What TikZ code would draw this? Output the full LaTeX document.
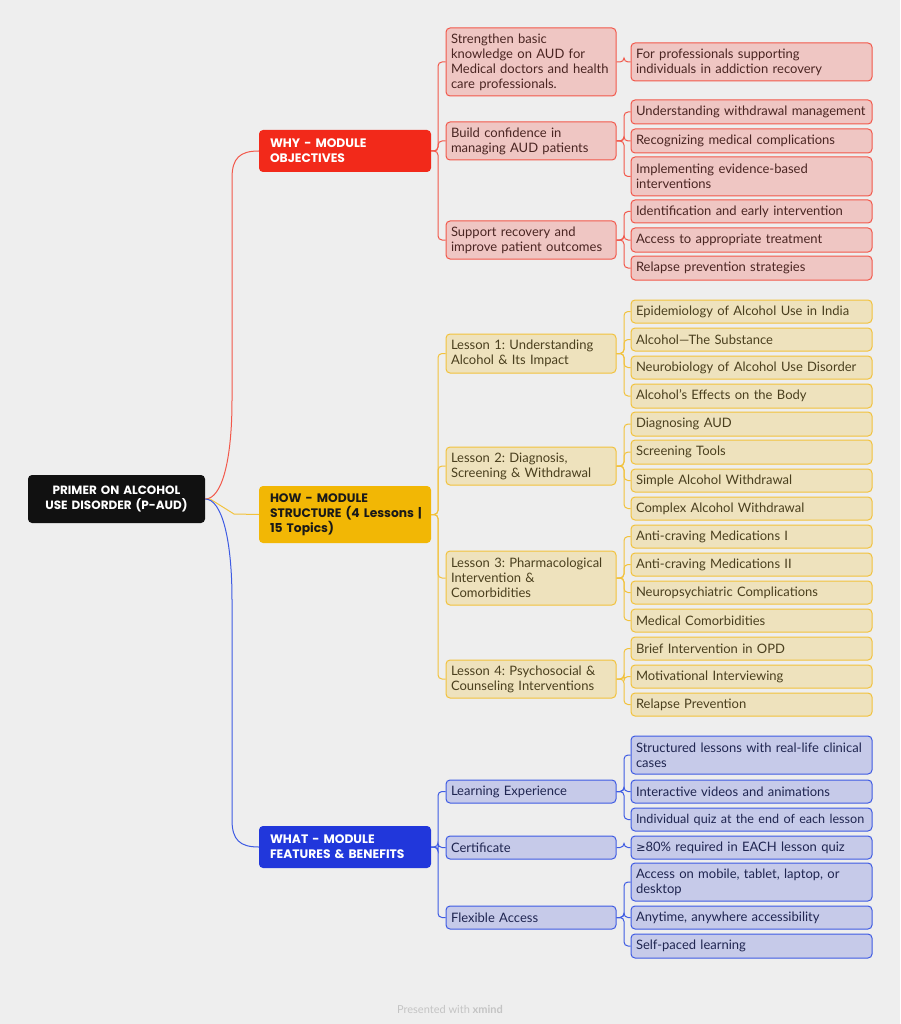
\documentclass[tikz,border=0pt]{standalone}
\usepackage{fontspec}
\setmainfont{Lato}
\newfontfamily\hdfont{Poppins}
\newfontfamily\symfont{DejaVu Sans}
\frenchspacing
\definecolor{bg}{HTML}{EEEEEE}
\definecolor{rmain}{HTML}{F2291A}
\definecolor{rfill}{HTML}{EFC6C3}
\definecolor{rline}{HTML}{F2584B}
\definecolor{rtext}{HTML}{4A2522}
\definecolor{ymain}{HTML}{F2B705}
\definecolor{yfill}{HTML}{EEE2BD}
\definecolor{yline}{HTML}{F2C23C}
\definecolor{ytext}{HTML}{4A3F1E}
\definecolor{bmain}{HTML}{2137DB}
\definecolor{bfill}{HTML}{C6CAE9}
\definecolor{bline}{HTML}{3E5BE3}
\definecolor{btext}{HTML}{1F2550}
\definecolor{rootc}{HTML}{111111}
\definecolor{foot}{HTML}{C4C4C4}
\newcommand\bx[8][5]{%
 \pgfmathsetmacro\bw{#5-#3}\pgfmathsetmacro\bh{#6-#4}\pgfmathsetmacro\btw{#5-#3-2*#1}%
 \node[#7,inner xsep=#1pt,minimum width=\bw pt,minimum height=\bh pt,text width=\btw pt] (#2) at ({(#3+#5)/2},{(#4+#6)/2}) {#8};}
\tikzset{
 base/.style={rounded corners=4pt,inner ysep=0pt,align=left,
   font=\fontsize{13}{15}\selectfont\frenchspacing},
 rootbox/.style={base,fill=rootc,text=white,align=center,font=\hdfont\bfseries\fontsize{12}{15}\selectfont},
 mainbox/.style={base,font=\hdfont\bfseries\fontsize{12.3}{15}\selectfont},
 rmainbox/.style={mainbox,fill=rmain,text=white},
 ymainbox/.style={mainbox,fill=ymain,text=black!90},
 bmainbox/.style={mainbox,fill=bmain,text=white},
 rbox/.style={base,fill=rfill,draw=rline,line width=1pt,text=rtext},
 ybox/.style={base,fill=yfill,draw=yline,line width=1pt,text=ytext},
 bbox/.style={base,fill=bfill,draw=bline,line width=1pt,text=btext},
 rcon/.style={draw=rline,line width=1pt,rounded corners=4pt},
 ycon/.style={draw=yline,line width=1pt,rounded corners=4pt},
 bcon/.style={draw=bline,line width=1pt,rounded corners=4pt},
}
% connector from parent to child via trunk at x=#3
\newcommand\cn[4]{\draw[#4] (#1.east) -- (#3,0 |- #1.east) -- (#3,0 |- #2.west) -- (#2.west);}
\begin{document}
\begin{tikzpicture}[x=1pt,y=-1pt]
\fill[bg] (0,0) rectangle (900,1024);
\useasboundingbox (0,0) rectangle (900,1024);

% root and main
\bx{root}{28}{475}{205}{523}{rootbox}{PRIMER ON ALCOHOL\\USE DISORDER (P-AUD)}
\bx[11]{why}{259}{130}{431}{172}{rmainbox}{WHY - MODULE\\OBJECTIVES}
\bx[11]{how}{259}{486}{431}{543}{ymainbox}{HOW - MODULE\\\mbox{STRUCTURE (4 Lessons |}\\15 Topics)}
\bx[11]{what}{259}{826}{431}{868}{bmainbox}{WHAT - MODULE\\FEATURES \& BENEFITS}

\draw[rline,line width=1pt] (root.east) .. controls (222,499) and (232,460) .. (232,400) -- (232,178) .. controls (232,158) and (240,151) .. (why.west);
\draw[yline,line width=1pt] (root.east) -- (210,499) -- (234,514) -- (how.west);
\draw[bline,line width=1pt] (root.east) .. controls (222,499) and (232,540) .. (232,600) -- (232,820) .. controls (232,840) and (240,847) .. (what.west);

% WHY branch
\bx{r1}{446}{28}{616}{96}{rbox}{Strengthen basic\\knowledge on AUD for\\Medical doctors and health\\care professionals.}
\bx{r2}{446}{122}{616}{160}{rbox}{Build confidence in\\managing AUD patients}
\bx{r3}{446}{221}{616}{259}{rbox}{Support recovery and\\improve patient outcomes}
\bx{r11}{631}{43}{872}{81}{rbox}{For professionals supporting\\individuals in addiction recovery}
\bx{r21}{631}{100}{872}{124}{rbox}{Understanding withdrawal management}
\bx{r22}{631}{129}{872}{153}{rbox}{Recognizing medical complications}
\bx{r23}{631}{157}{872}{196}{rbox}{Implementing evidence-based\\interventions}
\bx{r31}{631}{200}{872}{223}{rbox}{Identification and early intervention}
\bx{r32}{631}{228}{872}{252}{rbox}{Access to appropriate treatment}
\bx{r33}{631}{256}{872}{280}{rbox}{Relapse prevention strategies}
\foreach \c in {r1,r2,r3}{\cn{why}{\c}{438}{rcon}}
\cn{r1}{r11}{624}{rcon}
\foreach \c in {r21,r22,r23}{\cn{r2}{\c}{624}{rcon}}
\foreach \c in {r31,r32,r33}{\cn{r3}{\c}{624}{rcon}}

% HOW branch
\bx{l1}{446}{334}{616}{373}{ybox}{Lesson 1: Understanding\\Alcohol \& Its Impact}
\bx{l2}{446}{447}{616}{485}{ybox}{Lesson 2: Diagnosis,\\Screening \& Withdrawal}
\bx{l3}{446}{551}{616}{605}{ybox}{Lesson 3: Pharmacological\\Intervention \&\\Comorbidities}
\bx{l4}{446}{660}{616}{698}{ybox}{Lesson 4: Psychosocial \&\\Counseling Interventions}
\bx{t1}{631}{300}{872}{323}{ybox}{Epidemiology of Alcohol Use in India}
\bx{t2}{631}{328}{872}{351}{ybox}{Alcohol—The Substance}
\bx{t3}{631}{356}{872}{379}{ybox}{Neurobiology of Alcohol Use Disorder}
\bx{t4}{631}{384}{872}{408}{ybox}{Alcohol’s Effects on the Body}
\bx{t5}{631}{412}{872}{436}{ybox}{Diagnosing AUD}
\bx{t6}{631}{440}{872}{464}{ybox}{Screening Tools}
\bx{t7}{631}{469}{872}{492}{ybox}{Simple Alcohol Withdrawal}
\bx{t8}{631}{497}{872}{520}{ybox}{Complex Alcohol Withdrawal}
\bx{t9}{631}{525}{872}{548}{ybox}{Anti-craving Medications I}
\bx{t10}{631}{553}{872}{576}{ybox}{Anti-craving Medications II}
\bx{t11}{631}{581}{872}{604}{ybox}{Neuropsychiatric Complications}
\bx{t12}{631}{609}{872}{632}{ybox}{Medical Comorbidities}
\bx{t13}{631}{637}{872}{660}{ybox}{Brief Intervention in OPD}
\bx{t14}{631}{665}{872}{688}{ybox}{Motivational Interviewing}
\bx{t15}{631}{693}{872}{716}{ybox}{Relapse Prevention}
\foreach \c in {l1,l2,l3,l4}{\cn{how}{\c}{438}{ycon}}
\foreach \c in {t1,t2,t3,t4}{\cn{l1}{\c}{624}{ycon}}
\foreach \c in {t5,t6,t7,t8}{\cn{l2}{\c}{624}{ycon}}
\foreach \c in {t9,t10,t11,t12}{\cn{l3}{\c}{624}{ycon}}
\foreach \c in {t13,t14,t15}{\cn{l4}{\c}{624}{ycon}}

% WHAT branch
\bx{b1}{446}{780}{616}{803}{bbox}{Learning Experience}
\bx{b2}{446}{836}{616}{859}{bbox}{Certificate}
\bx{b3}{446}{906}{616}{929}{bbox}{Flexible Access}
\bx{b11}{631}{736}{872}{774}{bbox}{Structured lessons with real-life clinical\\cases}
\bx{b12}{631}{780}{872}{803}{bbox}{Interactive videos and animations}
\bx{b13}{631}{808}{872}{831}{bbox}{\mbox{\fontsize{12.6}{15}\selectfont Individual quiz at the end of each lesson}}
\bx{b21}{631}{836}{872}{859}{bbox}{{\symfont\fontsize{11.5}{15}\selectfont ≥}80\% required in EACH lesson quiz}
\bx{b31}{631}{863}{872}{901}{bbox}{Access on mobile, tablet, laptop, or\\desktop}
\bx{b32}{631}{906}{872}{929}{bbox}{Anytime, anywhere accessibility}
\bx{b33}{631}{934}{872}{958}{bbox}{Self-paced learning}
\foreach \c in {b1,b2,b3}{\cn{what}{\c}{438}{bcon}}
\foreach \c in {b11,b12,b13}{\cn{b1}{\c}{624}{bcon}}
\cn{b2}{b21}{624}{bcon}
\foreach \c in {b31,b32,b33}{\cn{b3}{\c}{624}{bcon}}

\node[text=foot,font=\fontsize{11}{13}\selectfont] (ft) at (450,1009) {Presented with \textbf{xmind}};
\end{tikzpicture}
\end{document}
